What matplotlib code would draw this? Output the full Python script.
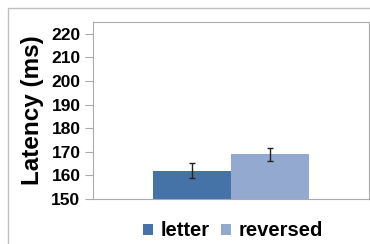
import numpy as np
import matplotlib
matplotlib.use("Agg")
import matplotlib.pyplot as plt
from matplotlib.patches import Rectangle

plt.rcParams['font.family'] = ['Liberation Sans', 'DejaVu Sans']

conditions = ['letter', 'reversed']
latency = [162.0, 168.9]
errors = [3.1, 2.7]
colors = ['#4573A7', '#94A9D0']
yticks = [150, 160, 170, 180, 190, 200, 210, 220]

W, H = 370, 244
fig = plt.figure(figsize=(W / 100, H / 100), dpi=100)

# outer chart border (only top/left visible in the reference)
fig.add_artist(Rectangle((8 / W, -0.1), 1.2, (H - 8) / H + 0.1,
                         transform=fig.transFigure, fill=False,
                         edgecolor='#C0C0C0', linewidth=1))

ax = fig.add_axes([93 / W, (H - 199) / H, (369 - 93) / W, (199 - 22) / H])

x = np.array([-0.284, 0.284])
bars = ax.bar(x, latency, width=0.568, bottom=0, color=colors,
              edgecolor='none', zorder=2)
ax.errorbar(x, latency, yerr=errors, fmt='none', ecolor='#222222',
            elinewidth=1, capsize=2.5, capthick=1, zorder=3)

ax.set_xlim(-1, 1)
ax.set_ylim(150, 225)
ax.set_yticks(yticks)
ax.set_yticklabels([str(t) for t in yticks], fontsize=12.5, fontweight='bold')
ax.set_xticks([])
ax.tick_params(axis='y', length=6, width=0.8, color='#AAAAAA', pad=3)
for s in ax.spines.values():
    s.set_color('#AAAAAA')
    s.set_linewidth(0.8)

ax.set_ylabel('Latency (ms)', fontsize=17.5, fontweight='bold')
ax.yaxis.set_label_coords(-0.178, 0.5)

leg = fig.legend(bars, conditions, loc='center', bbox_to_anchor=(233 / W, (H - 231) / H),
                 ncol=2, frameon=False, prop={'size': 14.5, 'weight': 'bold'},
                 handlelength=0.5, handleheight=0.5, handletextpad=0.35,
                 columnspacing=0.6, borderpad=0)

fig.savefig('out.png', dpi=100)
